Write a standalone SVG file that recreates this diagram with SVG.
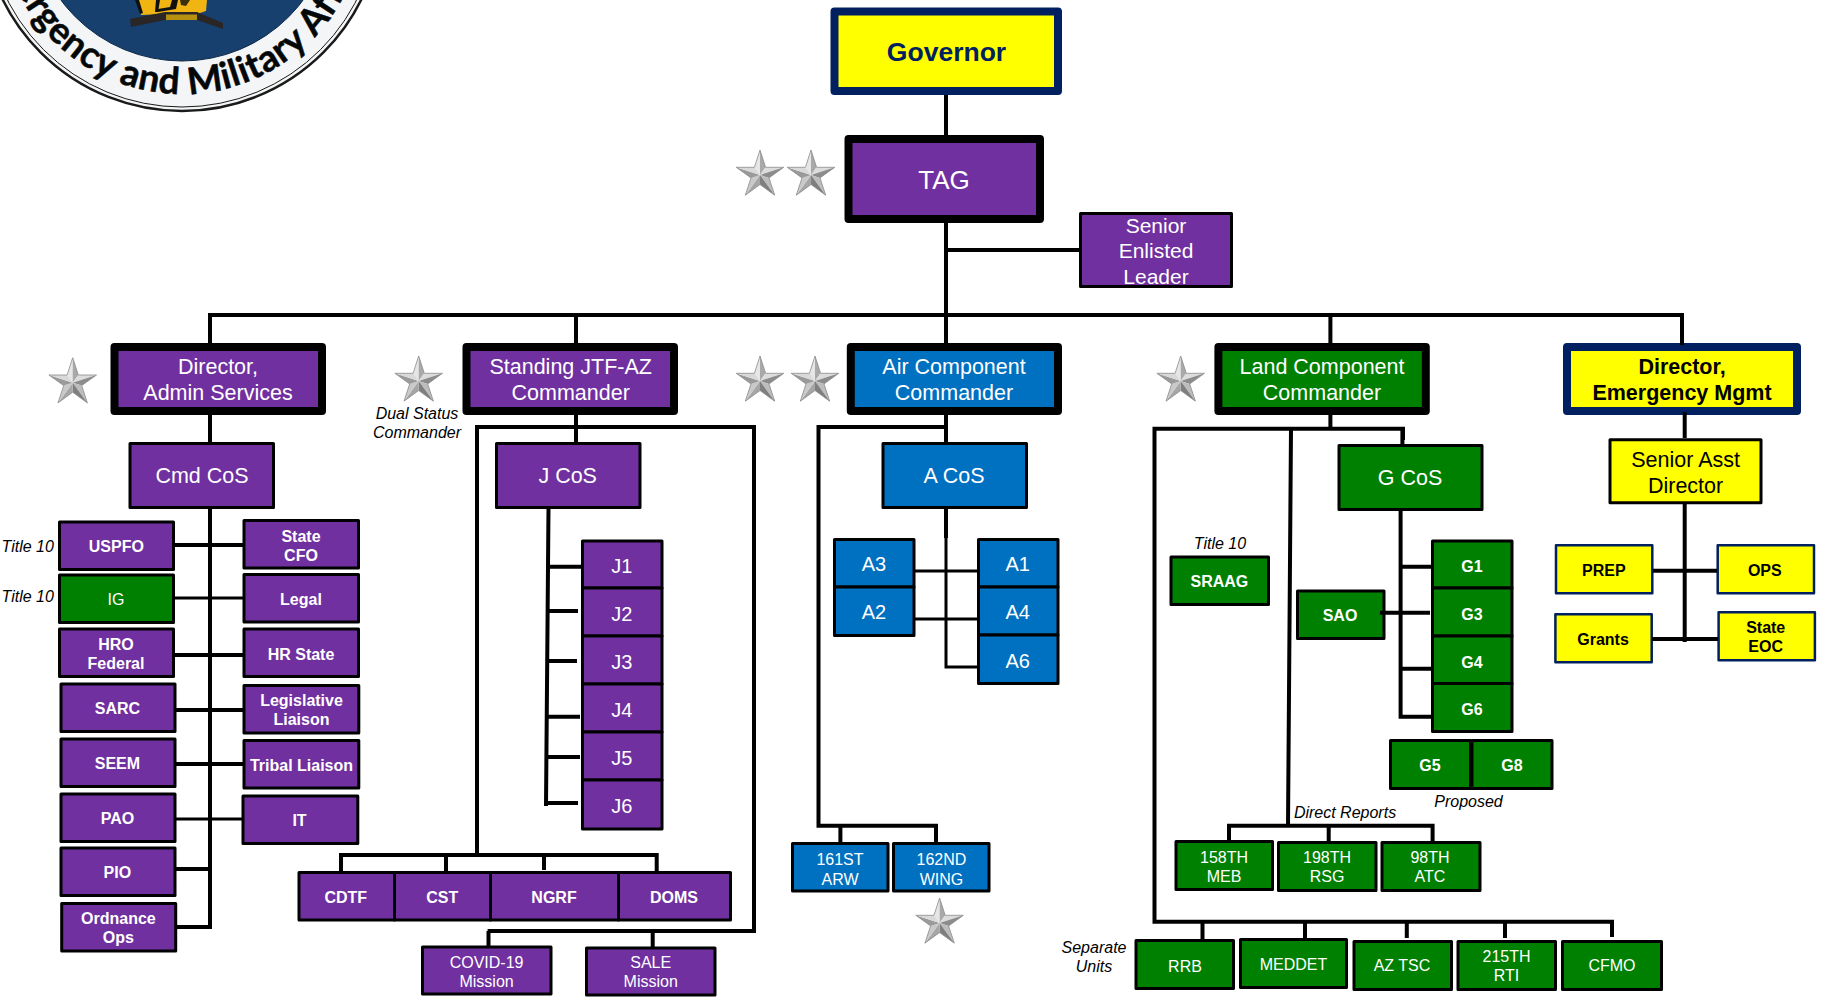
<svg xmlns="http://www.w3.org/2000/svg" width="1825" height="1002" viewBox="0 0 1825 1002" font-family="'Liberation Sans',Arial,sans-serif">
<style>
text{text-anchor:middle;fill:#fff;font-family:"Liberation Sans",Arial,sans-serif;transform:translateY(1px)}
rect{stroke:#000;stroke-width:3;stroke-linejoin:round}
.p{fill:#7030a0}.b{fill:#0070c0}.g{fill:#008000}.y{fill:#ffff00}
.t{stroke-width:8}.nv{stroke:#002060}.nt{stroke:#002060;stroke-width:2.5}
.l{font-size:21.5px}.m{font-size:16px}.s{font-size:16px;font-weight:bold}.a{font-size:20px}
.k{fill:#000}.d{fill:#000;font-weight:bold}.i{fill:#000;font-style:italic;font-size:16px}
#connectors path{fill:none;stroke:#000;stroke-width:4}
#connectors path.h{stroke-width:3}
.st polygon{stroke:none}
</style>
<defs>
<g id="star" class="st">
<polygon points="0,-25 -5.6,-7.7 0,0" fill="#e6e6e6"/><polygon points="0,-25 5.6,-7.7 0,0" fill="#a9a9a9"/>
<polygon points="23.8,-7.7 5.6,-7.7 0,0" fill="#dcdcdc"/><polygon points="23.8,-7.7 9,2.9 0,0" fill="#8c8c8c"/>
<polygon points="14.7,20.2 9,2.9 0,0" fill="#bdbdbd"/><polygon points="14.7,20.2 0,9.5 0,0" fill="#7f7f7f"/>
<polygon points="-14.7,20.2 0,9.5 0,0" fill="#a6a6a6"/><polygon points="-14.7,20.2 -9,2.9 0,0" fill="#c9c9c9"/>
<polygon points="-23.8,-7.7 -9,2.9 0,0" fill="#9a9a9a"/><polygon points="-23.8,-7.7 -5.6,-7.7 0,0" fill="#d9d9d9"/>
<polygon points="0,-25 5.6,-7.7 23.8,-7.7 9,2.9 14.7,20.2 0,9.5 -14.7,20.2 -9,2.9 -23.8,-7.7 -5.6,-7.7" fill="none" style="stroke:#8a8a8a;stroke-width:.8"/>
</g>
<path id="sealArc" d="M -1,-90 A 182 182 0 0 0 365,-90"/>
</defs>

<g id="seal">
<circle cx="182" cy="-89" r="200" fill="#f4f5f6" stroke="#1a1a1a" stroke-width="2.5"/>
<circle cx="182" cy="-89" r="196" fill="none" stroke="#1a1a1a" stroke-width="1"/>
<circle cx="182" cy="-90" r="151" fill="#17406f" stroke="#0d2747" stroke-width="1"/>
<polygon points="137,0 207,0 206,11 197,14 165,14 141,15" fill="#f0b413"/>
<polygon points="156,0 160,0 158,12 155,12" fill="#111"/>
<polygon points="135,0 139,0 143,13 140,14" fill="#111"/>
<polygon points="172,0 178,0 176,9 158,12 158,9 170,7" fill="#111"/>
<polygon points="180,0 190,0 186,6 181,5" fill="#3b2f10"/>
<polygon points="130,19 165,12 197,12 223,23 223,29 197,20 165,20 131,27" fill="#2a2626"/>
<rect x="166" y="14.5" width="31" height="5.5" style="fill:#b8900f;stroke:none"/>
<text font-size="37" font-weight="bold" letter-spacing="0.6" style="fill:#050808;stroke:#050808;stroke-width:.5;font-family:'Lato',sans-serif"><textPath href="#sealArc" startOffset="50%">Emergency and Military Affairs</textPath></text>
</g>

<g id="stars">
<use href="#star" x="760" y="175"/><use href="#star" x="811" y="175"/>
<use href="#star" x="760" y="381"/><use href="#star" x="815" y="381"/>
<use href="#star" x="1180.7" y="381"/><use href="#star" x="72.7" y="382.7"/>
<use href="#star" x="418.7" y="381"/><use href="#star" x="939.6" y="923"/>
</g>

<g id="n-governor"><rect class="y t nv" x="834.5" y="11.5" width="223.5" height="79.5"/><text class="d" x="946.5" y="60" font-size="26.5" style="fill:#002060">Governor</text></g>
<g id="n-tag"><rect class="p t" x="848.5" y="139" width="191.5" height="80"/><text x="944" y="188" font-size="26">TAG</text></g>
<g id="n-sel"><rect class="p" x="1080.5" y="213.5" width="151" height="73"/><text x="1156" y="232" font-size="21">Senior</text><text x="1156" y="257" font-size="21">Enlisted</text><text x="1156" y="283" font-size="21">Leader</text></g>

<g id="n-admin"><rect class="p t" x="114.5" y="347" width="207.5" height="64"/><text class="l" x="218" y="373">Director,</text><text class="l" x="218" y="399">Admin Services</text></g>
<g id="n-jtf"><rect class="p t" x="466.5" y="347" width="207.5" height="64"/><text class="l" x="570.7" y="373">Standing JTF-AZ</text><text class="l" x="570.7" y="399">Commander</text></g>
<g id="n-air"><rect class="b t" x="850.8" y="347" width="207.2" height="64"/><text class="l" x="954" y="373">Air Component</text><text class="l" x="954" y="399">Commander</text></g>
<g id="n-land"><rect class="g t" x="1218.4" y="347" width="207.4" height="64"/><text class="l" x="1322" y="373">Land Component</text><text class="l" x="1322" y="399">Commander</text></g>
<g id="n-em"><rect class="y t nv" x="1567" y="347" width="230" height="64"/><text class="l d" x="1682" y="373">Director,</text><text class="l d" x="1682" y="399">Emergency Mgmt</text></g>

<g id="n-cmdcos"><rect class="p" x="130" y="443.5" width="143.5" height="64"/><text class="l" x="202" y="482">Cmd CoS</text></g>
<g id="n-uspfo"><rect class="p" x="59.5" y="522" width="114" height="47.5"/><text class="s" x="116.3" y="551">USPFO</text></g>
<g id="n-cfo"><rect class="p" x="244" y="520.5" width="114.5" height="47.5"/><text class="s" x="301" y="541">State</text><text class="s" x="301" y="560">CFO</text></g>
<g id="n-ig"><rect class="g" x="59.5" y="575" width="114" height="47.5"/><text class="m" x="116" y="604">IG</text></g>
<g id="n-legal"><rect class="p" x="244" y="574.5" width="114.5" height="47.5"/><text class="s" x="301" y="604">Legal</text></g>
<g id="n-hro"><rect class="p" x="59.5" y="629" width="114" height="47.5"/><text class="s" x="116" y="649">HRO</text><text class="s" x="116" y="668">Federal</text></g>
<g id="n-hrs"><rect class="p" x="244" y="629" width="114.5" height="47.5"/><text class="s" x="301" y="659">HR State</text></g>
<g id="n-sarc"><rect class="p" x="61" y="684" width="114" height="47.5"/><text class="s" x="117.4" y="712.7">SARC</text></g>
<g id="n-leg"><rect class="p" x="244" y="685.5" width="114.8" height="47.5"/><text class="s" x="301.5" y="705">Legislative</text><text class="s" x="301.5" y="724">Liaison</text></g>
<g id="n-seem"><rect class="p" x="61" y="739" width="114" height="47.5"/><text class="s" x="117.4" y="768">SEEM</text></g>
<g id="n-tribal"><rect class="p" x="244" y="740.5" width="114.8" height="47.5"/><text class="s" x="301.5" y="770">Tribal Liaison</text></g>
<g id="n-pao"><rect class="p" x="61" y="794" width="114" height="47.5"/><text class="s" x="117.4" y="822.7">PAO</text></g>
<g id="n-it"><rect class="p" x="243" y="796" width="114.8" height="47.5"/><text class="s" x="299.5" y="825">IT</text></g>
<g id="n-pio"><rect class="p" x="61" y="848" width="114" height="47.5"/><text class="s" x="117.4" y="876.7">PIO</text></g>
<g id="n-ord"><rect class="p" x="61.7" y="903.5" width="114" height="47.5"/><text class="s" x="118.4" y="923">Ordnance</text><text class="s" x="118.4" y="942">Ops</text></g>

<g id="n-jcos"><rect class="p" x="496.5" y="443.5" width="143.5" height="64"/><text class="l" x="567.7" y="482">J CoS</text></g>
<g id="n-j1"><rect class="p" x="582.5" y="541" width="79.5" height="47"/><text class="a" x="621.7" y="572">J1</text></g>
<g id="n-j2"><rect class="p" x="582.5" y="588" width="79.5" height="48"/><text class="a" x="621.7" y="620">J2</text></g>
<g id="n-j3"><rect class="p" x="582.5" y="636" width="79.5" height="48"/><text class="a" x="621.7" y="668">J3</text></g>
<g id="n-j4"><rect class="p" x="582.5" y="684" width="79.5" height="48"/><text class="a" x="621.7" y="716">J4</text></g>
<g id="n-j5"><rect class="p" x="582.5" y="732" width="79.5" height="48"/><text class="a" x="621.7" y="764">J5</text></g>
<g id="n-j6"><rect class="p" x="582.5" y="780" width="79.5" height="49"/><text class="a" x="621.7" y="812">J6</text></g>
<g id="n-cdtf"><rect class="p" x="299" y="872.5" width="95.5" height="47.5"/><text class="s" x="345.8" y="901.7">CDTF</text></g>
<g id="n-cst"><rect class="p" x="394.5" y="872.5" width="96" height="47.5"/><text class="s" x="442.3" y="901.7">CST</text></g>
<g id="n-ngrf"><rect class="p" x="490.5" y="872.5" width="128" height="47.5"/><text class="s" x="554" y="901.7">NGRF</text></g>
<g id="n-doms"><rect class="p" x="618.5" y="872.5" width="112" height="47.5"/><text class="s" x="674" y="901.7">DOMS</text></g>
<g id="n-covid"><rect class="p" x="422.5" y="947" width="128.5" height="47"/><text class="m" x="486.6" y="966.7">COVID-19</text><text class="m" x="486.6" y="986">Mission</text></g>
<g id="n-sale"><rect class="p" x="586.5" y="948" width="128.5" height="47"/><text class="m" x="650.7" y="966.7">SALE</text><text class="m" x="650.7" y="986">Mission</text></g>

<g id="n-acos"><rect class="b" x="883" y="443.5" width="143.5" height="64"/><text class="l" x="954" y="482">A CoS</text></g>
<g id="n-a3"><rect class="b" x="834.5" y="539.5" width="79.5" height="47.5"/><text class="a" x="874" y="570">A3</text></g>
<g id="n-a2"><rect class="b" x="834.5" y="587" width="79.5" height="48.5"/><text class="a" x="874" y="618">A2</text></g>
<g id="n-a1"><rect class="b" x="978.5" y="539.5" width="79.5" height="47.5"/><text class="a" x="1017.7" y="570">A1</text></g>
<g id="n-a4"><rect class="b" x="978.5" y="587" width="79.5" height="48"/><text class="a" x="1017.7" y="618">A4</text></g>
<g id="n-a6"><rect class="b" x="978.5" y="635" width="79.5" height="48.5"/><text class="a" x="1017.7" y="666.7">A6</text></g>
<g id="n-161"><rect class="b" x="792.5" y="843.5" width="95.5" height="47.5"/><text class="m" x="840" y="863.5">161ST</text><text class="m" x="840" y="883.5">ARW</text></g>
<g id="n-162"><rect class="b" x="893.5" y="843.5" width="95.5" height="47.5"/><text class="m" x="941.4" y="863.5">162ND</text><text class="m" x="941.4" y="883.5">WING</text></g>

<g id="n-gcos"><rect class="g" x="1339" y="445.5" width="143" height="64"/><text class="l" x="1410" y="484">G CoS</text></g>
<g id="n-sraag"><rect class="g" x="1171" y="557" width="97.5" height="47.5"/><text class="s" x="1219.4" y="585.7">SRAAG</text></g>
<g id="n-sao"><rect class="g" x="1297.5" y="591" width="86.5" height="47.5"/><text class="s" x="1340" y="620">SAO</text></g>
<g id="n-g1"><rect class="g" x="1432.5" y="541" width="79.5" height="47"/><text class="s" x="1472" y="571">G1</text></g>
<g id="n-g3"><rect class="g" x="1432.5" y="588" width="79.5" height="48"/><text class="s" x="1472" y="618.7">G3</text></g>
<g id="n-g4"><rect class="g" x="1432.5" y="636" width="79.5" height="47.5"/><text class="s" x="1472" y="666.7">G4</text></g>
<g id="n-g6"><rect class="g" x="1432.5" y="683.5" width="79.5" height="48"/><text class="s" x="1472" y="713.7">G6</text></g>
<g id="n-g5"><rect class="g" x="1390.5" y="740.5" width="80" height="48"/><text class="s" x="1430" y="770">G5</text></g>
<g id="n-g8"><rect class="g" x="1472" y="740.5" width="80" height="48"/><text class="s" x="1512" y="770">G8</text></g>
<g id="n-158"><rect class="g" x="1176" y="841.5" width="96.5" height="48"/><text class="m" x="1224" y="861.7">158TH</text><text class="m" x="1224" y="881">MEB</text></g>
<g id="n-198"><rect class="g" x="1278.5" y="842.5" width="97.5" height="48"/><text class="m" x="1327" y="861.7">198TH</text><text class="m" x="1327" y="881">RSG</text></g>
<g id="n-98"><rect class="g" x="1382" y="842.5" width="98" height="48"/><text class="m" x="1430" y="861.7">98TH</text><text class="m" x="1430" y="881">ATC</text></g>
<g id="n-rrb"><rect class="g" x="1136" y="940.5" width="97.5" height="48"/><text class="m" x="1185" y="970.5">RRB</text></g>
<g id="n-meddet"><rect class="g" x="1240.5" y="939.5" width="106" height="48"/><text class="m" x="1293.5" y="969.3">MEDDET</text></g>
<g id="n-aztsc"><rect class="g" x="1354" y="941.5" width="97.5" height="48"/><text class="m" x="1402" y="970">AZ TSC</text></g>
<g id="n-215"><rect class="g" x="1458" y="941.5" width="97.5" height="48"/><text class="m" x="1506.5" y="960.7">215TH</text><text class="m" x="1506.5" y="980">RTI</text></g>
<g id="n-cfmo"><rect class="g" x="1562.5" y="941.5" width="99" height="48"/><text class="m" x="1612" y="970">CFMO</text></g>

<g id="n-sad"><rect class="y" x="1610" y="439.8" width="151" height="63"/><text class="l k" x="1685.6" y="466">Senior Asst</text><text class="l k" x="1685.6" y="492">Director</text></g>
<g id="n-prep"><rect class="y nt" x="1556" y="545.3" width="96.3" height="48"/><text class="s k" x="1603.8" y="575">PREP</text></g>
<g id="n-ops"><rect class="y nt" x="1717.7" y="545.3" width="96.3" height="48"/><text class="s k" x="1764.8" y="575">OPS</text></g>
<g id="n-grants"><rect class="y nt" x="1555.4" y="614.3" width="96.3" height="48"/><text class="s k" x="1603" y="644">Grants</text></g>
<g id="n-eoc"><rect class="y nt" x="1718.6" y="612.3" width="96.3" height="48"/><text class="s k" x="1765.7" y="631.7">State</text><text class="s k" x="1765.7" y="650.7">EOC</text></g>

<g id="labels">
<text class="i" x="417" y="418">Dual Status</text><text class="i" x="417" y="437">Commander</text>
<text class="i" x="27.7" y="550.7">Title 10</text><text class="i" x="27.7" y="600.7">Title 10</text>
<text class="i" x="1220" y="548">Title 10</text>
<text class="i" x="1468.5" y="806">Proposed</text><text class="i" x="1345" y="817">Direct Reports</text>
<text class="i" x="1094" y="951.7">Separate</text><text class="i" x="1094" y="970.7">Units</text>
</g>

<g id="connectors">
<path d="M946 95V135M946 223V343M946 250H1080"/>
<path d="M210 315H1684M210 313V343M576 315V343M1330.4 315V343M1682 315V345"/>
<path d="M210 415V442M210 508V929M175 545H243"/>
<path class="h" d="M175 598H243M176 819H243"/>
<path d="M172 655H243M174 710H244M174 764H244M176 869H212M176 927H212"/>
<path d="M576 415V442M477 855V427H754V931H487.6M488.5 931V946M652.7 931V947"/>
<path d="M548.5 508L546 806M549 566.7H582M549 611H578M548 661H577M547 716.7H580M547 757H580M546 803H578"/>
<path d="M341 871V855H656.7V871M446 855V871M544 855V870"/>
<path d="M946 415V442M946 427H818.5V825.7H936V843M840.4 825.7V843"/>
<path d="M946 508V538"/>
<path class="h" d="M946 538V667H978M915 571H978M915 619H978"/>
<path d="M1330.4 415V428.7M1403 440V428.7H1154.5V921.7H1612V937M1291 428.7L1288 825.7M1402.4 428.7V444"/>
<path d="M1229 842.7V825.7H1432.6V842M1328.7 825.7V842"/>
<path d="M1202.5 921.7V939M1305 921.7V938M1406.8 921.7V938M1505 921.7V938"/>
<path d="M1400.6 509V716.7H1432M1400.6 566.7H1432M1380 612.7H1430M1400.6 668.7H1432"/>
<path d="M1684.7 412V438M1684.7 504V642M1653 570.7H1717M1652 639H1718"/>
</g>
</svg>
